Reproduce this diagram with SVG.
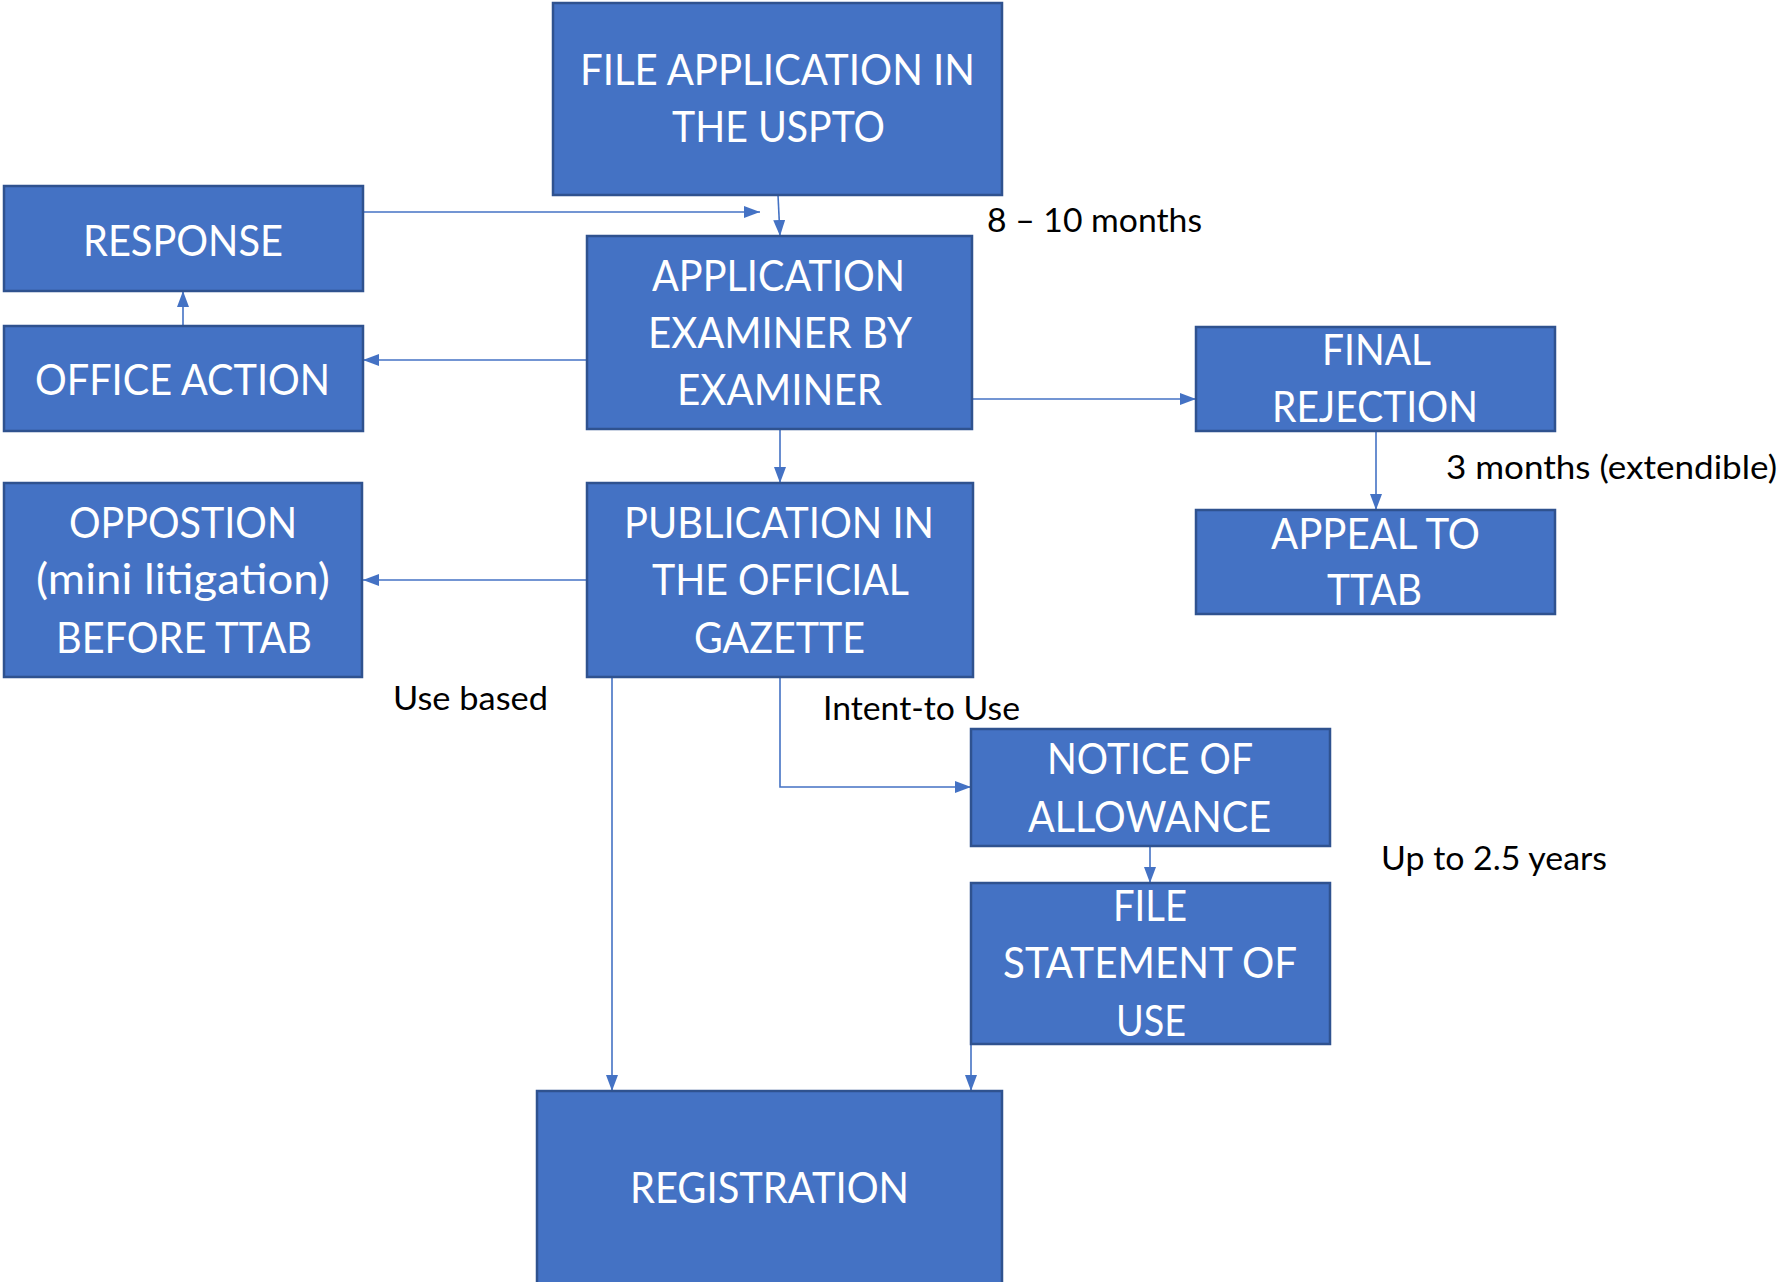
<svg xmlns="http://www.w3.org/2000/svg" width="1781" height="1282" viewBox="0 0 1781 1282">
<style>
.box{fill:#4472C4;stroke:#2F528F;stroke-width:2.5}
.bt{font-family:Lato,"Open Sans","Liberation Sans",sans-serif;font-size:42px;fill:#FFFFFF;text-anchor:middle}
.lb{font-family:Lato,"Open Sans","Liberation Sans",sans-serif;font-size:33px;fill:#000000}
.cn{fill:none;stroke:#4472C4;stroke-width:1.6}
</style>
<defs>
<marker id="ah" markerUnits="userSpaceOnUse" markerWidth="16" markerHeight="12" refX="16" refY="6" orient="auto">
<path d="M0,0 L16,6 L0,12 z" fill="#4472C4"/>
</marker>
</defs>
<rect width="1781" height="1282" fill="#FFFFFF"/>
<g id="connectors">
<path class="cn" d="M778,195 L780,236" marker-end="url(#ah)"/>
<path class="cn" d="M363,212 L760,212" marker-end="url(#ah)"/>
<path class="cn" d="M183,326 L183,291" marker-end="url(#ah)"/>
<path class="cn" d="M587,360 L363,360" marker-end="url(#ah)"/>
<path class="cn" d="M972,399 L1196,399" marker-end="url(#ah)"/>
<path class="cn" d="M780,429 L780,483" marker-end="url(#ah)"/>
<path class="cn" d="M1376,431 L1376,510" marker-end="url(#ah)"/>
<path class="cn" d="M587,580 L363,580" marker-end="url(#ah)"/>
<path class="cn" d="M612,677 L612,1091" marker-end="url(#ah)"/>
<path class="cn" d="M780,677 L780,787 L971,787" marker-end="url(#ah)"/>
<path class="cn" d="M1150,846 L1150,883" marker-end="url(#ah)"/>
<path class="cn" d="M971,1044 L971,1091" marker-end="url(#ah)"/>
</g>
<g id="file">
<rect class="box" x="553" y="3" width="449" height="192"/>
<text class="bt" x="777.5" y="85" textLength="395" lengthAdjust="spacingAndGlyphs">FILE APPLICATION IN</text>
<text class="bt" x="778.5" y="142" textLength="213" lengthAdjust="spacingAndGlyphs">THE USPTO</text>
</g>
<g id="response">
<rect class="box" x="4" y="186" width="359" height="105"/>
<text class="bt" x="183" y="256" textLength="200" lengthAdjust="spacingAndGlyphs">RESPONSE</text>
</g>
<g id="officeaction">
<rect class="box" x="4" y="326" width="359" height="105"/>
<text class="bt" x="182.5" y="395" textLength="295" lengthAdjust="spacingAndGlyphs">OFFICE ACTION</text>
</g>
<g id="examiner">
<rect class="box" x="587" y="236" width="385" height="193"/>
<text class="bt" x="778.5" y="291" textLength="253" lengthAdjust="spacingAndGlyphs">APPLICATION</text>
<text class="bt" x="780" y="348" textLength="264" lengthAdjust="spacingAndGlyphs">EXAMINER BY</text>
<text class="bt" x="779.5" y="405" textLength="205" lengthAdjust="spacingAndGlyphs">EXAMINER</text>
</g>
<g id="finalrejection">
<rect class="box" x="1196" y="327" width="359" height="104"/>
<text class="bt" x="1376.5" y="365" textLength="109" lengthAdjust="spacingAndGlyphs">FINAL</text>
<text class="bt" x="1375" y="422" textLength="206" lengthAdjust="spacingAndGlyphs">REJECTION</text>
</g>
<g id="appeal">
<rect class="box" x="1196" y="510" width="359" height="104"/>
<text class="bt" x="1375.5" y="549" textLength="209" lengthAdjust="spacingAndGlyphs">APPEAL TO</text>
<text class="bt" x="1374.5" y="605" textLength="95" lengthAdjust="spacingAndGlyphs">TTAB</text>
</g>
<g id="opposition">
<rect class="box" x="4" y="483" width="358" height="194"/>
<text class="bt" x="183" y="538" textLength="228" lengthAdjust="spacingAndGlyphs">OPPOSTION</text>
<text class="bt" x="183" y="594" textLength="294" lengthAdjust="spacingAndGlyphs">(mini litigation)</text>
<text class="bt" x="184" y="653" textLength="256" lengthAdjust="spacingAndGlyphs">BEFORE TTAB</text>
</g>
<g id="publication">
<rect class="box" x="587" y="483" width="386" height="194"/>
<text class="bt" x="779" y="538" textLength="310" lengthAdjust="spacingAndGlyphs">PUBLICATION IN</text>
<text class="bt" x="780.5" y="595" textLength="257" lengthAdjust="spacingAndGlyphs">THE OFFICIAL</text>
<text class="bt" x="779.5" y="653" textLength="171" lengthAdjust="spacingAndGlyphs">GAZETTE</text>
</g>
<g id="allowance">
<rect class="box" x="971" y="729" width="359" height="117"/>
<text class="bt" x="1150" y="774" textLength="206" lengthAdjust="spacingAndGlyphs">NOTICE OF</text>
<text class="bt" x="1149.5" y="832" textLength="243" lengthAdjust="spacingAndGlyphs">ALLOWANCE</text>
</g>
<g id="statement">
<rect class="box" x="971" y="883" width="359" height="161"/>
<text class="bt" x="1150" y="921" textLength="74" lengthAdjust="spacingAndGlyphs">FILE</text>
<text class="bt" x="1150" y="978" textLength="294" lengthAdjust="spacingAndGlyphs">STATEMENT OF</text>
<text class="bt" x="1151" y="1036" textLength="70" lengthAdjust="spacingAndGlyphs">USE</text>
</g>
<g id="registration">
<rect class="box" x="537" y="1091" width="465" height="210"/>
<text class="bt" x="769.5" y="1203" textLength="279" lengthAdjust="spacingAndGlyphs">REGISTRATION</text>
</g>
<g id="labels">
<text class="lb" x="987" y="232" textLength="215" lengthAdjust="spacingAndGlyphs">8 – 10 months</text>
<text class="lb" x="1446" y="479" textLength="331" lengthAdjust="spacingAndGlyphs">3 months (extendible)</text>
<text class="lb" x="393" y="710" textLength="155" lengthAdjust="spacingAndGlyphs">Use based</text>
<text class="lb" x="823" y="720" textLength="197" lengthAdjust="spacingAndGlyphs">Intent-to Use</text>
<text class="lb" x="1381" y="870" textLength="226" lengthAdjust="spacingAndGlyphs">Up to 2.5 years</text>
</g>
</svg>
